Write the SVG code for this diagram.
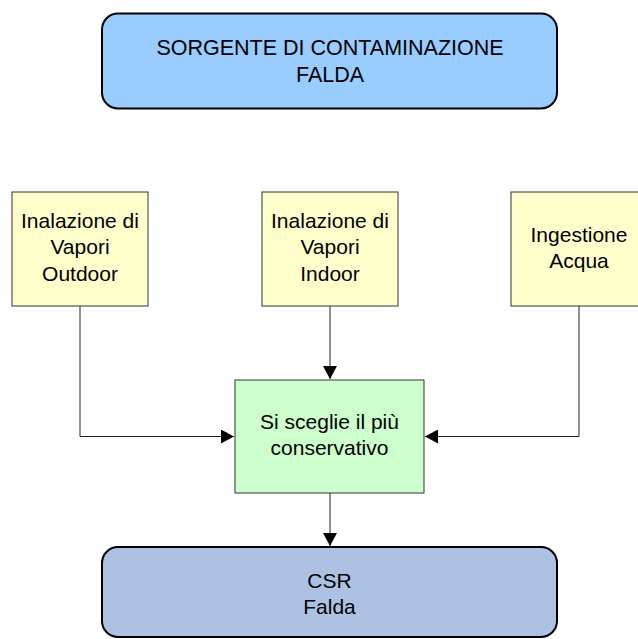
<svg xmlns="http://www.w3.org/2000/svg" width="638" height="639" viewBox="0 0 638 639">
<style>
text{font-family:"Liberation Sans",Arial,sans-serif;font-size:21px;fill:#000;text-anchor:middle}
.big{font-size:21.5px}
.rr{stroke:#000;stroke-width:2}
.bx{stroke:#333;stroke-width:1}
.ln{fill:none;stroke:#222;stroke-width:1}
</style>
<defs>
<marker id="ah" viewBox="0 0 13 14" refX="13" refY="7" markerWidth="13" markerHeight="14" markerUnits="userSpaceOnUse" orient="auto">
<path d="M0,0 L13,7 L0,14 Z" fill="#000"/>
</marker>
</defs>
<rect width="638" height="639" fill="#fff"/>
<g id="connectors">
<path class="ln" d="M330,306 V379" marker-end="url(#ah)"/>
<path class="ln" d="M80,306 V436.5 H234" marker-end="url(#ah)"/>
<path class="ln" d="M579,306 V436.5 H425" marker-end="url(#ah)"/>
<path class="ln" d="M330,493 V546" marker-end="url(#ah)"/>
</g>
<g id="sorgente">
<rect class="rr" x="102" y="13.5" width="455" height="95" rx="16" fill="#99CCFF"/>
<text class="big" x="330" y="55">SORGENTE DI CONTAMINAZIONE</text>
<text class="big" x="330" y="82">FALDA</text>
</g>
<g id="outdoor">
<rect class="bx" x="12" y="192" width="136" height="114" fill="#FFFFCC"/>
<text x="80" y="228">Inalazione di</text>
<text x="80" y="254">Vapori</text>
<text x="80" y="280.5">Outdoor</text>
</g>
<g id="indoor">
<rect class="bx" x="262" y="192" width="136" height="114" fill="#FFFFCC"/>
<text x="330" y="228">Inalazione di</text>
<text x="330" y="254">Vapori</text>
<text x="330" y="280.5">Indoor</text>
</g>
<g id="ingestione">
<rect class="bx" x="511" y="192" width="136" height="114" fill="#FFFFCC"/>
<text x="579" y="242">Ingestione</text>
<text x="579" y="268">Acqua</text>
</g>
<g id="conservativo">
<rect class="bx" x="235" y="380" width="189" height="113" fill="#CCFFCC"/>
<text x="329.5" y="429">Si sceglie il più</text>
<text x="329.5" y="455">conservativo</text>
</g>
<g id="csr">
<rect class="rr" x="102" y="547" width="455" height="90" rx="16" fill="#ADC2E3"/>
<text x="329.5" y="588">CSR</text>
<text x="329.5" y="614">Falda</text>
</g>
</svg>
